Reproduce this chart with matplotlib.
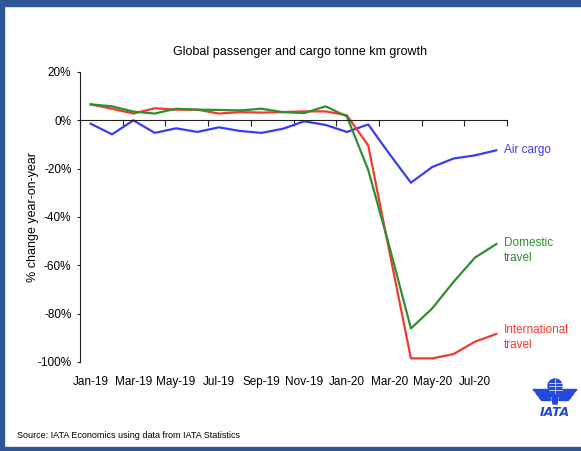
import numpy as np
import matplotlib
matplotlib.use('Agg')
import matplotlib.pyplot as plt
from matplotlib.patches import Rectangle, Circle, Polygon

# ---------------- data ----------------
months = ['Jan-19', 'Feb-19', 'Mar-19', 'Apr-19', 'May-19', 'Jun-19', 'Jul-19', 'Aug-19',
          'Sep-19', 'Oct-19', 'Nov-19', 'Dec-19', 'Jan-20', 'Feb-20', 'Mar-20', 'Apr-20',
          'May-20', 'Jun-20', 'Jul-20', 'Aug-20']
air_cargo = [-1.4, -5.8, 0.0, -5.2, -3.3, -4.8, -2.9, -4.4, -5.2, -3.5,
             -0.4, -1.9, -4.8, -1.7, -14.0, -25.8, -19.3, -15.8, -14.5, -12.4]
international = [6.6, 4.8, 2.8, 5.0, 4.4, 4.4, 2.8, 3.4, 3.2, 3.4,
                 3.7, 3.7, 2.1, -10.4, -54.7, -98.5, -98.5, -96.7, -91.6, -88.4]
domestic = [6.6, 5.8, 3.6, 2.8, 4.8, 4.4, 4.3, 4.1, 4.8, 3.4,
            3.0, 5.8, 1.6, -20.5, -52.5, -86.1, -77.8, -66.8, -56.8, -51.2]
yticks = [20, 0, -20, -40, -60, -80, -100]

BLUE, GREEN, RED = '#3b3bf5', '#2f8f2f', '#f5392f'
FRAME = '#2f5597'
FONT = 'Liberation Sans'

fig = plt.figure(figsize=(5.81, 4.51), dpi=100)
ax = fig.add_axes([80/581, 1-362/451, 427/581, 290/451])

x = np.arange(len(months))
ax.plot(x, air_cargo, color=BLUE, lw=1.6)
ax.plot(x, international, color=RED, lw=1.6)
ax.plot(x, domestic, color=GREEN, lw=1.6)

ax.set_xlim(-0.5, len(months)-0.5)
ax.set_ylim(-100, 20)
for s in ['top', 'right']:
    ax.spines[s].set_visible(False)
ax.spines['bottom'].set_position(('data', 0))
for s in ['left', 'bottom']:
    ax.spines[s].set_linewidth(0.8)
    ax.spines[s].set_color('#222222')

# tick marks between categories on the 0% line
ax.set_xticks(np.arange(-0.5, len(months), 2))
ax.tick_params(axis='x', direction='out', length=4, width=0.8, labelbottom=False, color='#222222')
ax.set_yticks(yticks)
ax.set_yticklabels([f'{v}%' for v in yticks], family=FONT, fontsize=8.5)
ax.tick_params(axis='y', direction='out', length=2.2, width=0.8, pad=4, color='#222222')

# month labels at the bottom of the plot area
sec = ax.secondary_xaxis('bottom')
sec.set_xticks(x[::2])
sec.set_xticklabels(months[::2], family=FONT, fontsize=8.5)
sec.tick_params(length=0, pad=10)
sec.spines['bottom'].set_visible(False)

ax.set_ylabel('% change year-on-year', family=FONT, fontsize=9)
ax.yaxis.set_label_coords(-41/427, 0.5)

# series labels
ax.text(19.36, -12.4, 'Air cargo', color=BLUE, family=FONT, fontsize=8.5, va='center', ha='left', clip_on=False)
ax.text(19.36, -54, 'Domestic\ntravel', color=GREEN, family=FONT, fontsize=8.5, va='center', ha='left',
        linespacing=1.35, clip_on=False)
ax.text(19.36, -90, 'International\ntravel', color=RED, family=FONT, fontsize=8.5, va='center', ha='left',
        linespacing=1.35, clip_on=False)

fig.text(300/581, 1-52/451, 'Global passenger and cargo tonne km growth', family=FONT,
         fontsize=9, ha='center', va='center')
fig.text(17/581, 1-436/451, 'Source: IATA Economics using data from IATA Statistics', family=FONT,
         fontsize=6.5, ha='left', va='center')

# slide frame
fig.patches.append(Rectangle((0, 0), 4/581, 1, transform=fig.transFigure, color=FRAME, zorder=5))
fig.patches.append(Rectangle((0, 1-6/451), 1, 6/451, transform=fig.transFigure, color=FRAME, zorder=5))
fig.patches.append(Rectangle((0, 0), 1, 4/451, transform=fig.transFigure, color=FRAME, zorder=5))

# rough IATA logo
LOGO = '#2448d8'
lg = fig.add_axes([530/581, 1-422/451, 50/581, 50/451])
lg.set_xlim(0, 50); lg.set_ylim(0, 50); lg.axis('off')
lg.add_patch(Circle((25, 36), 7, color=LOGO))
for dy in (-3.5, 0, 3.5):
    lg.plot([18.5, 31.5], [36+dy, 36+dy], color='white', lw=0.5)
lg.plot([25, 25], [29, 43], color='white', lw=0.5)
for i, yy in enumerate([31, 27, 23]):
    lg.add_patch(Polygon([(3+i*3, yy+1.5), (20, yy+1.5), (21, yy-1.5), (6+i*3, yy-1.5)], color=LOGO))
    lg.add_patch(Polygon([(47-i*3, yy+1.5), (30, yy+1.5), (29, yy-1.5), (44-i*3, yy-1.5)], color=LOGO))
lg.add_patch(Polygon([(21, 31), (29, 31), (27, 18), (23, 18)], color=LOGO))
lg.text(25, 9, 'IATA', color=LOGO, fontsize=9, weight='bold', style='italic', ha='center', va='center',
        family='DejaVu Sans')

fig.savefig('out.png', dpi=100)
